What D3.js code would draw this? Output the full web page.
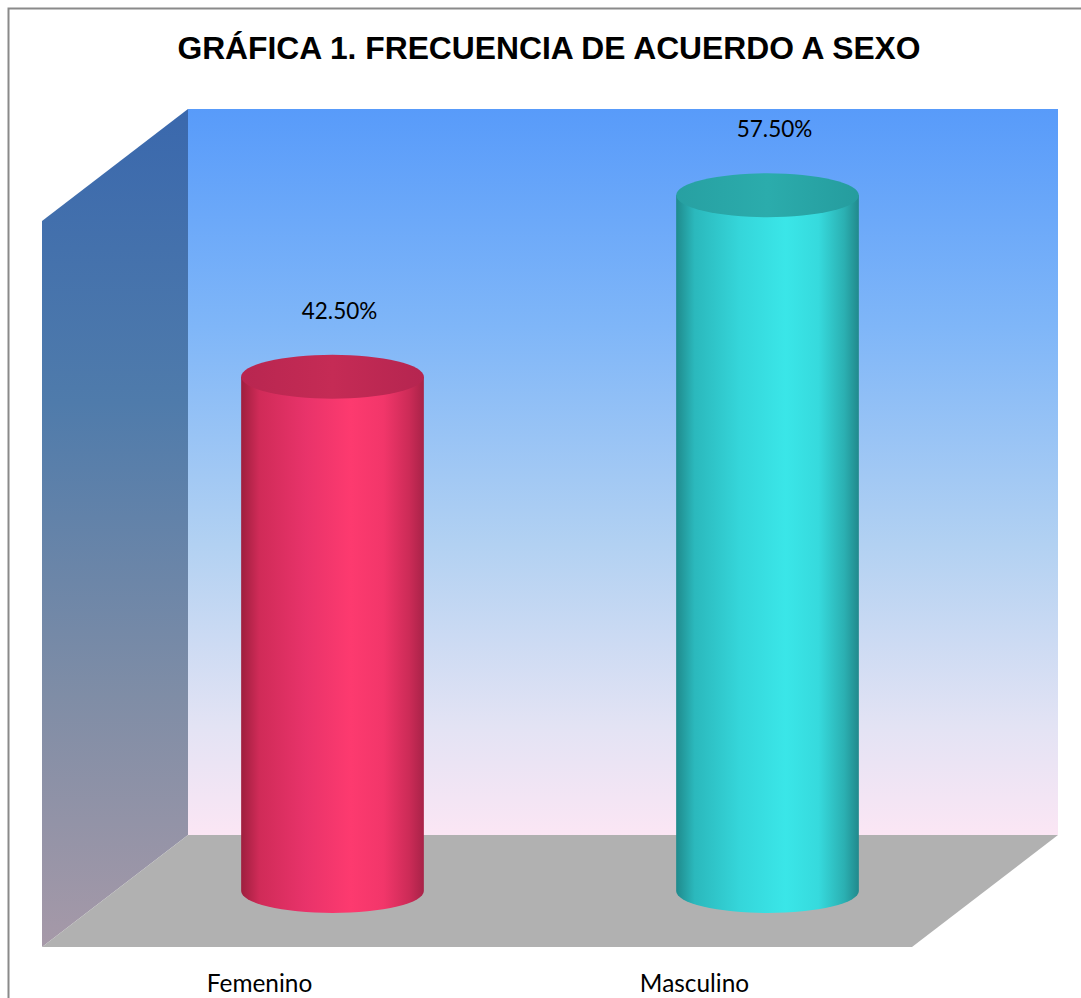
<!DOCTYPE html>
<html>
<head>
<meta charset="utf-8">
<script src="https://cdn.jsdelivr.net/npm/d3@7"></script>
<style>
  html, body { margin: 0; padding: 0; background: #ffffff; }
  svg { display: block; }
</style>
</head>
<body>
<script>
// Chart data
const categories = ["Femenino", "Masculino"];
const percentages = [42.5, 57.5];
const valueLabels = ["42.50%", "57.50%"];
const titleText = "GRÁFICA 1. FRECUENCIA DE ACUERDO A SEXO";
const axisMax = 60;

const W = 1081, H = 998;
const svg = d3.select("body").append("svg").attr("width", W).attr("height", H);
const defs = svg.append("defs");

// Plot box measured at mid depth; the back wall sits +depth, the front edge -depth
const depth = { dx: 73, dy: -56 };
const mid = { left: 115, right: 985, bottom: 891, top: 165 };

const x = d3.scaleBand().domain(categories).range([mid.left, mid.right]).padding(0);
const y = d3.scaleLinear().domain([0, axisMax]).range([mid.bottom, mid.top]);

// Outer frame
svg.append("rect")
  .attr("x", 8.5).attr("y", 8.5)
  .attr("width", W + 20).attr("height", H + 20)
  .attr("fill", "none").attr("stroke", "#8a8a8a").attr("stroke-width", 2);

// Title
svg.append("text")
  .attr("x", 549).attr("y", 59)
  .attr("text-anchor", "middle")
  .attr("font-family", "'Liberation Sans', Arial, sans-serif")
  .attr("font-weight", "bold")
  .attr("font-size", 31.8)
  .attr("fill", "#000")
  .text(titleText);

// Gradients for the walls
const backGrad = defs.append("linearGradient").attr("id", "backWall")
  .attr("x1", 0).attr("y1", 0).attr("x2", 0).attr("y2", 1);
[[0, "#589bfa"], [0.3, "#7fb6f8"], [0.6, "#b2d1f2"], [0.85, "#e3e3f4"], [1, "#fbe6f4"]]
  .forEach(([o, c]) => backGrad.append("stop").attr("offset", o).attr("stop-color", c));

const sideGrad = defs.append("linearGradient").attr("id", "sideWall")
  .attr("x1", 0).attr("y1", 0).attr("x2", 0).attr("y2", 1);
[[0, "#3a68ad"], [0.35, "#4f7bab"], [0.7, "#7f8da6"], [1, "#a699a8"]]
  .forEach(([o, c]) => sideGrad.append("stop").attr("offset", o).attr("stop-color", c));

const bx0 = x.range()[0] + depth.dx, bx1 = x.range()[1] + depth.dx;
const byTop = y(axisMax) + depth.dy, byBot = y(0) + depth.dy;
const fx0 = x.range()[0] - depth.dx, fx1 = x.range()[1] - depth.dx;
const fyTop = y(axisMax) - depth.dy, fyBot = y(0) - depth.dy;

// Back wall
svg.append("rect")
  .attr("x", bx0).attr("y", byTop)
  .attr("width", bx1 - bx0).attr("height", byBot - byTop)
  .attr("fill", "url(#backWall)");

// Side wall
svg.append("path")
  .attr("d", `M${fx0},${fyTop}L${bx0},${byTop}L${bx0},${byBot}L${fx0},${fyBot}Z`)
  .attr("fill", "url(#sideWall)");

// Floor
svg.append("path")
  .attr("d", `M${fx0},${fyBot}L${bx0},${byBot}L${bx1},${byBot}L${fx1},${fyBot}Z`)
  .attr("fill", "#b1b1b1");

// Cylinder colours
const palettes = [
  { id: "fem", body: ["#9e1f3e", "#d02b58", "#e8336a", "#fd3a6f", "#f2366a", "#cc2b57", "#a82348"], cap: ["#b82650", "#c52b55", "#b52550"] },
  { id: "masc", body: ["#1f8a8c", "#2bb8bc", "#35d6da", "#3ae6e8", "#36dadd", "#2bb0b2", "#21898c"], cap: ["#27a0a2", "#2bacac", "#259c9e"] }
];
palettes.forEach(p => {
  const g = defs.append("linearGradient").attr("id", p.id + "Body")
    .attr("x1", 0).attr("y1", 0).attr("x2", 1).attr("y2", 0);
  const offs = [0, 0.1, 0.35, 0.6, 0.78, 0.92, 1];
  p.body.forEach((c, i) => g.append("stop").attr("offset", offs[i]).attr("stop-color", c));
  const gc = defs.append("linearGradient").attr("id", p.id + "Cap")
    .attr("x1", 0).attr("y1", 0).attr("x2", 1).attr("y2", 0);
  p.cap.forEach((c, i) => gc.append("stop").attr("offset", i / (p.cap.length - 1)).attr("stop-color", c));
});

const rx = x.bandwidth() * 0.21;
const ry = 22;

const bars = svg.append("g").selectAll("g")
  .data(categories.map((c, i) => ({ cat: c, v: percentages[i], label: valueLabels[i], pal: palettes[i] })))
  .join("g");

bars.append("path")
  .attr("d", d => {
    const cx = x(d.cat) + x.bandwidth() / 2;
    const yt = y(d.v), yb = y(0);
    return `M${cx - rx},${yt}L${cx - rx},${yb}A${rx},${ry} 0 0 0 ${cx + rx},${yb}L${cx + rx},${yt}Z`;
  })
  .attr("fill", d => `url(#${d.pal.id}Body)`);

bars.append("ellipse")
  .attr("cx", d => x(d.cat) + x.bandwidth() / 2)
  .attr("cy", d => y(d.v))
  .attr("rx", rx).attr("ry", ry)
  .attr("fill", d => `url(#${d.pal.id}Cap)`);

// Value labels
bars.append("text")
  .attr("x", d => x(d.cat) + x.bandwidth() / 2 + 7)
  .attr("y", d => y(d.v) - 58)
  .attr("text-anchor", "middle")
  .attr("font-family", "Lato, 'Open Sans', sans-serif")
  .attr("font-size", 22.5)
  .attr("fill", "#000")
  .text(d => d.label);

// Category labels along the front edge of the floor
const xFront = d3.scaleBand().domain(categories).range([fx0, fx1]);
svg.append("g").selectAll("text")
  .data(categories)
  .join("text")
  .attr("x", d => xFront(d) + xFront.bandwidth() / 2)
  .attr("y", 992)
  .attr("text-anchor", "middle")
  .attr("font-family", "Lato, 'Open Sans', sans-serif")
  .attr("font-size", 24.4)
  .attr("fill", "#000")
  .text(d => d);
</script>
</body>
</html>
